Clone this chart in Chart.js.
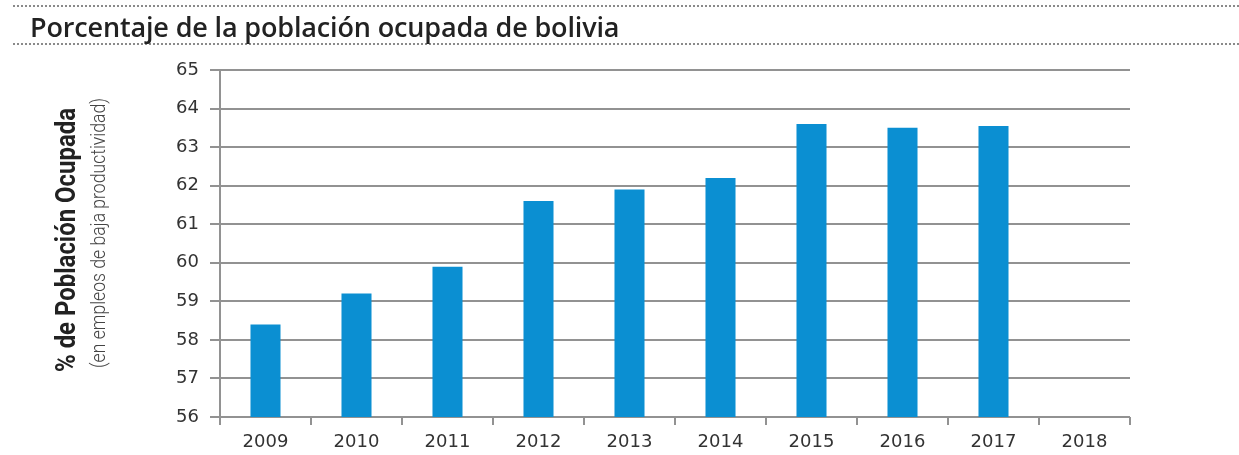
<!DOCTYPE html>
<html>
<head>
<meta charset="utf-8">
<script src="https://cdn.jsdelivr.net/npm/chart.js@4.4.1/dist/chart.umd.min.js"></script>
<style>
  html, body { margin: 0; padding: 0; background: #fff; }
  #wrap { position: relative; width: 1239px; height: 455px; overflow: hidden; }
  #title {
    position: absolute; left: 13px; top: 5px; width: 1226px; height: 40px;
    border-top: 2px dotted #8a8a8a; border-bottom: 2px dotted #8a8a8a;
    box-sizing: border-box;
  }
  #title span {
    position: absolute; left: 17px; top: 1px; line-height: normal;
    font-family: "Open Sans", sans-serif; font-weight: 600; font-size: 27px;
    color: #222; white-space: nowrap; letter-spacing: -0.15px;
  }
  canvas { position: absolute; left: 0; top: 0; }
</style>
</head>
<body>
<div id="wrap">
  <canvas id="c" width="1239" height="455"></canvas>
  <div id="title"><span id="titleText"></span></div>
</div>
<script>
const chartTitle = "Porcentaje de la población ocupada de bolivia";
const yTitle = "% de Población Ocupada";
const ySubtitle = "(en empleos de baja productividad)";
const years = ["2009", "2010", "2011", "2012", "2013", "2014", "2015", "2016", "2017", "2018"];
const values = [58.4, 59.2, 59.9, 61.6, 61.9, 62.2, 63.6, 63.5, 63.55, null];
const yMin = 56;
const yMax = 65;

document.getElementById('titleText').textContent = chartTitle;

function drawRotatedFit(ctx, text, font, color, x, yStart, length) {
  ctx.save();
  ctx.font = font;
  ctx.fillStyle = color;
  ctx.textAlign = 'left';
  ctx.textBaseline = 'alphabetic';
  const w = ctx.measureText(text).width;
  ctx.translate(x, yStart);
  ctx.rotate(-Math.PI / 2);
  ctx.scale(length / w, 1);
  ctx.fillText(text, 0, 0);
  ctx.restore();
}

const axisTitlePlugin = {
  id: 'axisTitles',
  afterDraw(chart) {
    const ctx = chart.ctx;
    drawRotatedFit(ctx, yTitle, 'bold 27px Roboto, "Open Sans", sans-serif', '#222', 75, 372, 264);
    drawRotatedFit(ctx, ySubtitle, '300 21px Roboto, "Open Sans", sans-serif', '#444', 105, 368, 270);
  }
};

new Chart(document.getElementById('c'), {
  type: 'bar',
  data: {
    labels: years,
    datasets: [{
      data: values,
      backgroundColor: '#0b8fd2',
      borderWidth: 0,
      barPercentage: 0.33,
      categoryPercentage: 1.0
    }]
  },
  options: {
    responsive: false,
    animation: false,
    devicePixelRatio: 1,
    layout: { padding: { top: 70, right: 109, left: 0, bottom: 0 } },
    plugins: {
      legend: { display: false },
      tooltip: { enabled: false },
      title: { display: false }
    },
    scales: {
      x: {
        afterFit(scale) { scale.height = 38; },
        grid: {
          display: true, drawOnChartArea: false, drawTicks: true,
          tickLength: 8, color: '#929292', lineWidth: 2
        },
        border: { display: false },
        ticks: {
          color: '#333', padding: 7,
          font: { family: '"DejaVu Sans", sans-serif', size: 18 }
        }
      },
      y: {
        min: yMin, max: yMax,
        afterFit(scale) { scale.width = 220; },
        grid: { color: '#929292', lineWidth: 2, tickLength: 10 },
        border: { display: true, color: '#929292', width: 2 },
        ticks: {
          stepSize: 1, color: '#333', padding: 11,
          font: { family: '"DejaVu Sans", sans-serif', size: 18 }
        }
      }
    }
  },
  plugins: [axisTitlePlugin]
});
</script>
</body>
</html>
